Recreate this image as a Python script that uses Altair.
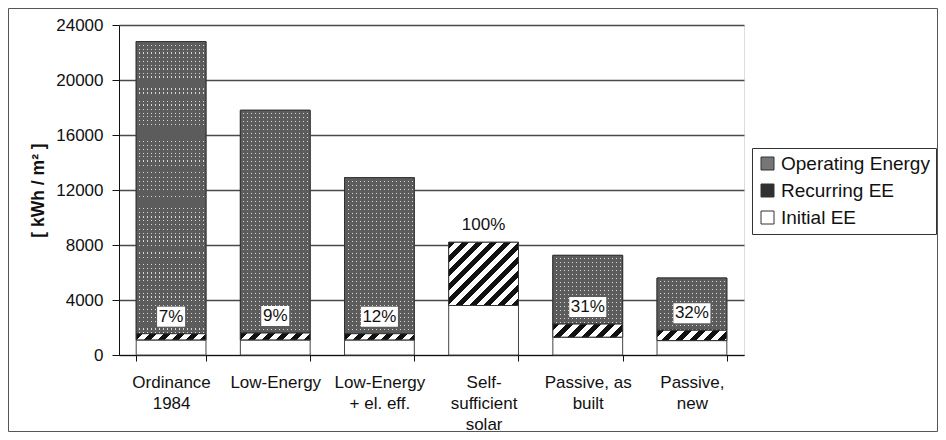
import altair as alt
import pandas as pd

# ---------------- data ----------------
categories = ["Ordinance\n1984", "Low-Energy", "Low-Energy\n+ el. eff.",
              "Self-\nsufficient\nsolar", "Passive, as\nbuilt", "Passive,\nnew"]
initial_ee = [1100, 1100, 1100, 3600, 1300, 1050]
recurring_ee = [450, 500, 450, 4600, 950, 750]
operating_energy = [21250, 16200, 11350, 0, 5000, 3800]
pct_labels = ["7%", "9%", "12%", "100%", "31%", "32%"]
components = ["Operating Energy", "Recurring EE", "Initial EE"]
y_ticks = [0, 4000, 8000, 12000, 16000, 20000, 24000]

# ---------------- layout constants ----------------
W, H = 625, 330
Y_MAX = 24000
PAD_IN, PAD_OUT = 0.33, 0.165
FONT = "Liberation Sans"

# ---------------- derived tables ----------------
seg_rows = []
lab_rows = []
for i, c in enumerate(categories):
    a = initial_ee[i]
    b = a + recurring_ee[i]
    t = b + operating_energy[i]
    seg_rows.append({"cat": c, "comp": "Initial EE", "lo": 0, "hi": a})
    seg_rows.append({"cat": c, "comp": "Recurring EE", "lo": a, "hi": b})
    if operating_energy[i] > 0:
        seg_rows.append({"cat": c, "comp": "Operating Energy", "lo": b, "hi": t})
    hw = 1.4 if len(pct_labels[i]) <= 2 else 1.85
    box = f"M{-hw},-1L{hw},-1L{hw},1L{-hw},1Z"
    lab_rows.append({"cat": c, "lo": b, "pct": pct_labels[i], "box": box})
seg = pd.DataFrame(seg_rows)
lab = pd.DataFrame(lab_rows)

x_scale = alt.Scale(domain=categories, paddingInner=PAD_IN, paddingOuter=PAD_OUT)
y_scale = alt.Scale(domain=[0, Y_MAX], nice=False)

x_axis = alt.Axis(title=None, labelExpr="split(datum.label, '\\n')", labelAngle=0,
                  labelFontSize=17, labelLineHeight=21, labelPadding=13, labelColor="#111",
                  tickSize=6, tickBand="extent", tickColor="#111", domainColor="#111",
                  labelFont=FONT)
y_axis = alt.Axis(values=y_ticks, format="d", title="[ kWh / m² ]",
                  titleFontSize=17.5, titleFontWeight="bold", titleFont=FONT, titleColor="#111",
                  titleAngle=-90, titleX=-81, titleY=H / 2, titleBaseline="middle",
                  titleAlign="center",
                  labelFontSize=17, labelFont=FONT, labelColor="#111", labelPadding=9,
                  tickSize=7, tickColor="#111", domainColor="#111",
                  grid=True, gridColor="#4a4a4a", gridWidth=1.4)

X = alt.X("cat:N", scale=x_scale, axis=x_axis, sort=categories)
Y = alt.Y("lo:Q", scale=y_scale, axis=y_axis)

# outer frame
frame = alt.Chart(pd.DataFrame({"k": [0]})).mark_rect(
    fill=None, stroke="#555", strokeWidth=1
).encode(x=alt.value(-110.5), x2=alt.value(W + 193.5),
         y=alt.value(-16.5), y2=alt.value(H + 76.5))

base = alt.Chart(seg).mark_bar(stroke="#444", strokeWidth=1).encode(
    x=X, y=Y, y2="hi:Q",
    fill=alt.Fill("comp:N", scale=alt.Scale(domain=components,
                                            range=["#767676", "#303030", "#ffffff"]),
                  legend=alt.Legend(title=None, orient="none", legendX=633, legendY=123,
                                    direction="vertical", strokeColor="#333", fillColor="white",
                                    padding=6, labelFontSize=19, labelFont=FONT,
                                    labelColor="#111", symbolType="square", symbolSize=169,
                                    symbolStrokeColor="#333", symbolStrokeWidth=1,
                                    symbolOpacity=1, rowPadding=7, labelOffset=4)),
)

step = W / (len(categories) - PAD_IN + 2 * PAD_OUT)
bw = step * (1 - PAD_IN)


def banded(length, pitch, on_frac, c_on, c_off):
    n = length / pitch
    stops = []
    j = 0
    while j < n:
        a = j / n
        b = min((j + on_frac) / n, 1.0)
        e = min((j + 1) / n, 1.0)
        stops += [{"offset": a, "color": c_on}, {"offset": b, "color": c_on},
                  {"offset": b, "color": c_off}, {"offset": e, "color": c_off}]
        j += 1
    return stops


def stripe_gradient(w, h, pitch=14.0):
    c = (w + h) / (w * w + h * h)
    return {"gradient": "linear", "x1": 0, "y1": 0, "x2": c * w, "y2": c * h,
            "stops": banded(w + h, pitch, 0.5, "#111111", "#ffffff")}


def vbands(w):
    return {"gradient": "linear", "x1": 0, "y1": 0, "x2": 1, "y2": 0,
            "stops": banded(w, 4.0, 0.75, "#5c5c5c", "#d8d8d8")}


def hbands(h):
    return {"gradient": "linear", "x1": 0, "y1": 0, "x2": 0, "y2": 1,
            "stops": banded(h, 4.0, 0.75, "rgba(92,92,92,1)", "rgba(92,92,92,0)")}


texture_layers = []
stripe_layers = []
for i, c in enumerate(categories):
    hpx = recurring_ee[i] * H / Y_MAX
    d = seg[(seg["cat"] == c) & (seg["comp"] == "Recurring EE")]
    stripe_layers.append(
        alt.Chart(d).mark_bar(fill=stripe_gradient(bw, hpx), stroke="#333", strokeWidth=1).encode(
            x=X, y=Y, y2="hi:Q")
    )
    if operating_energy[i] > 0:
        opx = operating_energy[i] * H / Y_MAX
        o = seg[(seg["cat"] == c) & (seg["comp"] == "Operating Energy")]
        texture_layers.append(
            alt.Chart(o).mark_bar(fill=vbands(bw), strokeWidth=0).encode(x=X, y=Y, y2="hi:Q"))
        texture_layers.append(
            alt.Chart(o).mark_bar(fill=hbands(opx), stroke="#333", strokeWidth=1).encode(
                x=X, y=Y, y2="hi:Q"))

boxes = alt.Chart(lab).mark_point(filled=True, fill="white", opacity=1, size=400,
                                  strokeWidth=0, yOffset=-17).encode(
    x=X, y=Y, shape=alt.Shape("box:N", scale=None))

texts = alt.Chart(lab).mark_text(dy=-17, fontSize=17, font=FONT, color="#111",
                                 baseline="middle").encode(
    x=X, y=Y, text="pct:N")

chart = alt.layer(frame, base, *texture_layers, *stripe_layers, boxes, texts).properties(
    width=W, height=H,
    autosize=alt.AutoSizeParams(type="none"),
    padding={"left": 111, "top": 17, "right": 194, "bottom": 77},
).configure_view(stroke="#777", strokeWidth=1).configure(font=FONT)

chart.save("out.html", embed_options={"renderer": "svg", "actions": False})
